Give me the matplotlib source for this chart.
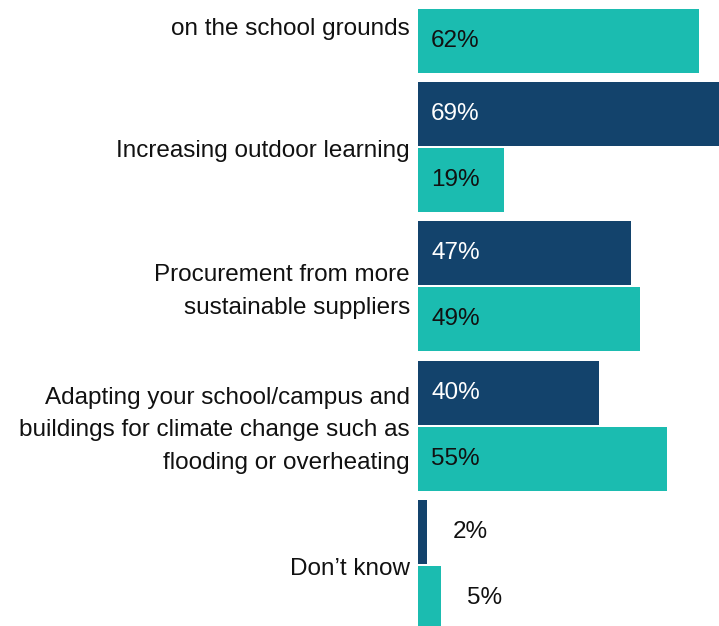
import numpy as np
import matplotlib.pyplot as plt
import matplotlib.transforms as mtransforms

plt.rcParams['font.family'] = ['Liberation Sans', 'DejaVu Sans']

labels = [
    "\non the school grounds",
    "Increasing outdoor learning",
    "Procurement from more\nsustainable suppliers",
    "Adapting your school/campus and\nbuildings for climate change such as\nflooding or overheating",
    "Don\u2019t know",
]
series_a = [np.nan, 69, 47, 40, 2]   # dark bars
series_b = [62, 19, 49, 55, 5]       # teal bars

dark = '#13436c'
teal = '#1bbcb0'

fig = plt.figure(figsize=(7.19, 6.26), dpi=100)
ax = fig.add_axes([418 / 719, 0, 1 - 418 / 719, 1])

y = np.arange(len(labels))
h = 0.459
off = 0.237
ax.barh(y - off, series_a, height=h, color=dark)
ax.barh(y + off, series_b, height=h, color=teal)

for yy, vals, inside_col in [(y - off, series_a, 'white'), (y + off, series_b, '#111111')]:
    for yi, v in zip(yy, vals):
        if np.isnan(v):
            continue
        if v >= 10:
            ax.annotate(f"{v:.0f}%", (0, yi), xytext=(13, 0), textcoords='offset pixels',
                        va='center', ha='left', fontsize=17.5, color=inside_col)
        else:
            ax.annotate(f"{v:.0f}%", (v, yi), xytext=(26, 0), textcoords='offset pixels',
                        va='center', ha='left', fontsize=17.5, color='#111111')

ax.set_xlim(0, 66.37)
ax.set_ylim(4.4386, -0.0553)
ax.set_yticks(y)
ax.set_yticklabels(labels, fontsize=17.5, linespacing=1.63, color='#111111')
ax.tick_params(axis='y', length=0, pad=5.8)
ax.set_xticks([])
for s in ax.spines.values():
    s.set_visible(False)

# nudge wrapped labels up a little, single-line ones down
for t in ax.get_yticklabels():
    dy = 3 if '\n' in t.get_text() else -1.5
    t.set_transform(t.get_transform() + mtransforms.ScaledTranslation(0, dy / 100, fig.dpi_scale_trans))

fig.savefig('out.png', dpi=100)
